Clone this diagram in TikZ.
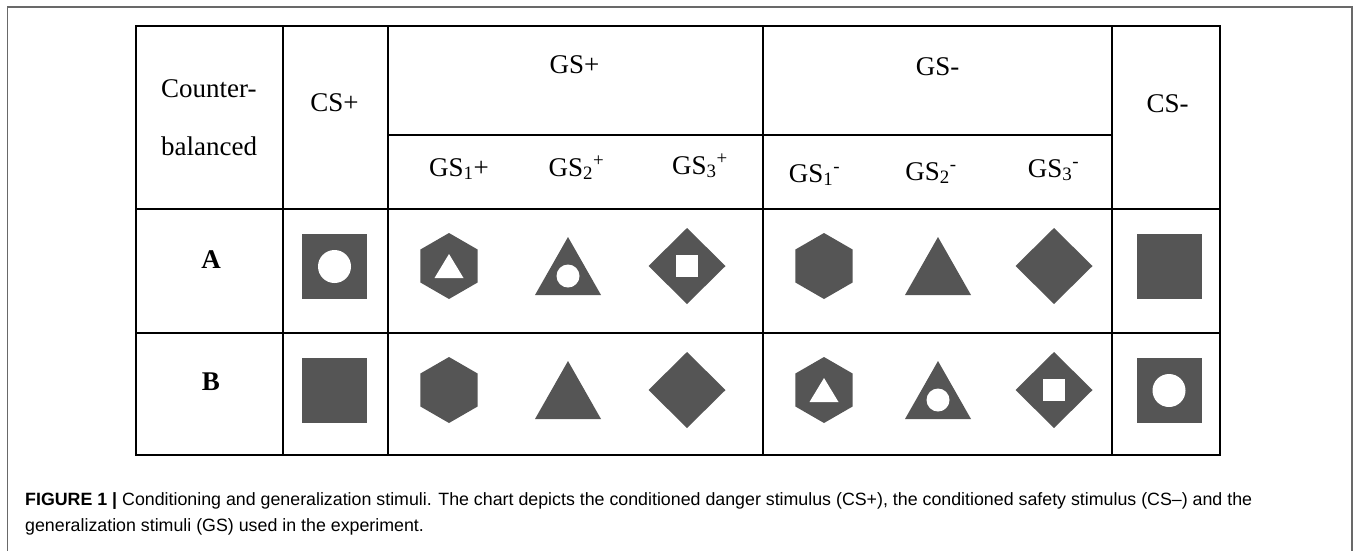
\documentclass[tikz,border=0pt]{standalone}
\usepackage{fontspec}
\setmainfont{Liberation Serif}
\newfontfamily\capfont{Liberation Sans}
\definecolor{shapegray}{RGB}{85,85,85}
\definecolor{framegray}{RGB}{105,105,105}
\tikzset{
  hdr/.style={inner sep=0pt, anchor=base, font=\fontsize{27}{27}\selectfont},
  rowlbl/.style={inner sep=0pt, anchor=base, font=\fontsize{27}{27}\selectfont\bfseries},
  captxt/.style={inner sep=0pt, anchor=base west, font=\capfont\fontsize{17.8}{17.8}\selectfont},
  gridline/.style={line width=1.9pt, black},
  sqfull/.pic={\fill[shapegray] (-32.5,-32.5) rectangle (32.5,32.5);},
  sqhole/.pic={\fill[shapegray] (-32.5,-32.5) rectangle (32.5,32.5);
               \fill[white] (0,0) circle (16.5);},
  hexfull/.pic={\fill[shapegray] (0,-33) -- (28.6,-16.5) -- (28.6,16.5) -- (0,33) -- (-28.6,16.5) -- (-28.6,-16.5) -- cycle;},
  hexhole/.pic={\fill[shapegray] (0,-33) -- (28.6,-16.5) -- (28.6,16.5) -- (0,33) -- (-28.6,16.5) -- (-28.6,-16.5) -- cycle;
                \fill[white] (0,-12) -- (14.5,12) -- (-14.5,12) -- cycle;},
  trifull/.pic={\fill[shapegray] (0,-29) -- (33,29) -- (-33,29) -- cycle;},
  trihole/.pic={\fill[shapegray] (0,-29) -- (33,29) -- (-33,29) -- cycle;
                \fill[white] (0,10) circle (11.5);},
  diafull/.pic={\fill[shapegray] (0,-38) -- (38.5,0) -- (0,38) -- (-38.5,0) -- cycle;},
  diahole/.pic={\fill[shapegray] (0,-38) -- (38.5,0) -- (0,38) -- (-38.5,0) -- cycle;
                \fill[white] (-11,-11) rectangle (11,11);},
}
\begin{document}
\begin{tikzpicture}[x=1pt,y=-1pt]
\useasboundingbox (0,0) rectangle (1357,550);
% outer frame
\draw[framegray, line width=1.3pt] (7.5,552) -- (7.5,7) -- (1352,7) -- (1352,552);
% table grid
\draw[gridline] (136,26) rectangle (1220,455);
\draw[gridline] (283,26) -- (283,455);
\draw[gridline] (388,26) -- (388,455);
\draw[gridline] (763,26) -- (763,455);
\draw[gridline] (1112,26) -- (1112,455);
\draw[gridline] (388,135) -- (1112,135);
\draw[gridline] (136,209) -- (1220,209);
\draw[gridline] (136,333) -- (1220,333);
% header texts
\node[hdr, anchor=base west] (counter) at (161,97) {Counter-};
\node[hdr, anchor=base west] (balanced) at (161,155) {balanced};
\node[hdr] (csplus) at (334.5,111) {CS+};
\node[hdr] (gsplus) at (574.5,73) {GS+};
\node[hdr] (gsminus) at (937.5,75) {GS-};
\node[hdr] (csminus) at (1167.5,112) {CS-};
\node[hdr] (gs1p) at (459,176) {GS\textsubscript{1}+};
\node[hdr] (gs2p) at (576.5,176) {GS\textsubscript{2}\textsuperscript{+}};
\node[hdr] (gs3p) at (700,174) {GS\textsubscript{3}\textsuperscript{+}};
\node[hdr] (gs1m) at (814.5,182) {GS\textsubscript{1}\textsuperscript{-}};
\node[hdr] (gs2m) at (931,180) {GS\textsubscript{2}\textsuperscript{-}};
\node[hdr] (gs3m) at (1053.5,177) {GS\textsubscript{3}\textsuperscript{-}};
\node[rowlbl] (rowA) at (211,268) {A};
\node[rowlbl] (rowB) at (211,390) {B};
% row A shapes
\pic at (334.5,266.5) {sqhole};
\pic at (449,266) {hexhole};
\pic at (568,266) {trihole};
\pic at (687,266) {diahole};
\pic at (824,266) {hexfull};
\pic at (938,266) {trifull};
\pic at (1054,266) {diafull};
\pic at (1169,266.5) {sqfull};
% row B shapes
\pic at (334.5,390.5) {sqfull};
\pic at (449,390) {hexfull};
\pic at (568,390) {trifull};
\pic at (687,390) {diafull};
\pic at (824,390) {hexhole};
\pic at (938,390) {trihole};
\pic at (1054,390) {diahole};
\pic at (1169,390.5) {sqhole};
% caption
\node[captxt] (cap1) at (25,505) {\textbf{FIGURE 1 |} Conditioning and generalization stimuli. The chart depicts the conditioned danger stimulus (CS+), the conditioned safety stimulus (CS–) and the};
\node[captxt] (cap2) at (25,531) {generalization stimuli (GS) used in the experiment.};
\end{tikzpicture}
\end{document}
